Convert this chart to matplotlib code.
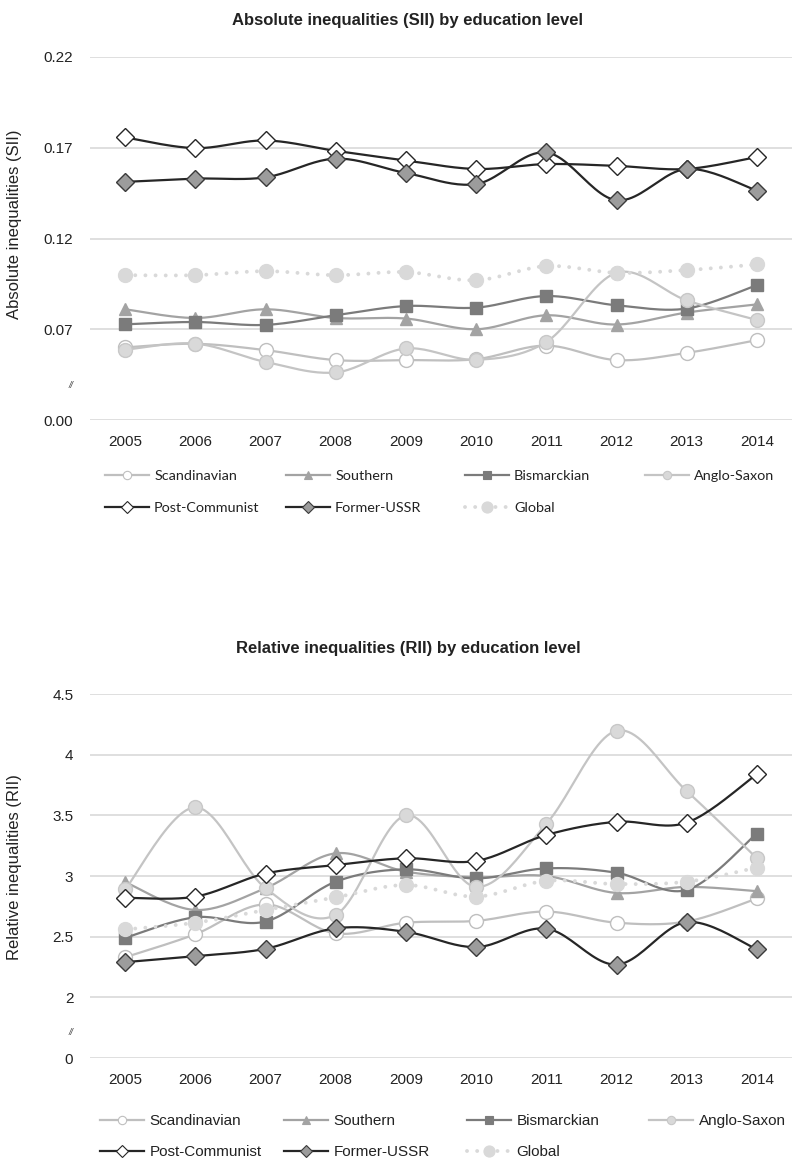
import numpy as np
import matplotlib
matplotlib.use("Agg")
import matplotlib.pyplot as plt
from matplotlib.lines import Line2D
import matplotlib.transforms as mtransforms

# ---------------- data ----------------
years = ["2005", "2006", "2007", "2008", "2009", "2010", "2011", "2012", "2013", "2014"]
series_names = ["Scandinavian", "Southern", "Bismarckian", "Anglo-Saxon",
                "Post-Communist", "Former-USSR", "Global"]

scandinavian_sii = [0.060, 0.062, 0.0585, 0.053, 0.053, 0.0535, 0.061, 0.053, 0.057, 0.064]
southern_sii = [0.081, 0.0762, 0.081, 0.0762, 0.0759, 0.070, 0.0777, 0.0726, 0.0792, 0.0837]
bismarckian_sii = [0.0727, 0.074, 0.0724, 0.0777, 0.0828, 0.0819, 0.0883, 0.0832, 0.0814, 0.0943]
anglo_sii = [0.0587, 0.0621, 0.052, 0.0462, 0.0594, 0.0532, 0.063, 0.1011, 0.0859, 0.0751]
postcom_sii = [0.1757, 0.1698, 0.174, 0.1683, 0.163, 0.1583, 0.161, 0.160, 0.1583, 0.1649]
fussr_sii = [0.1512, 0.153, 0.1537, 0.164, 0.1561, 0.150, 0.1674, 0.1411, 0.1583, 0.1464]
global_sii = [0.0998, 0.0998, 0.102, 0.0998, 0.1015, 0.097, 0.1048, 0.1011, 0.1026, 0.1057]

scandinavian_rii = [2.33, 2.52, 2.766, 2.527, 2.615, 2.63, 2.707, 2.615, 2.625, 2.815]
southern_rii = [2.95, 2.72, 2.90, 3.187, 3.036, 2.99, 3.0, 2.86, 2.91, 2.875]
bismarckian_rii = [2.49, 2.66, 2.625, 2.953, 3.055, 2.98, 3.063, 3.027, 2.885, 3.35]
anglo_rii = [2.89, 3.566, 2.90, 2.68, 3.50, 2.91, 3.43, 4.197, 3.70, 3.146]
postcom_rii = [2.82, 2.83, 3.02, 3.09, 3.146, 3.124, 3.338, 3.447, 3.44, 3.84]
fussr_rii = [2.29, 2.34, 2.40, 2.569, 2.54, 2.414, 2.566, 2.27, 2.62, 2.395]
global_rii = [2.56, 2.615, 2.72, 2.824, 2.926, 2.83, 2.96, 2.934, 2.953, 3.07]

sii_ticks = [0.02, 0.07, 0.12, 0.17, 0.22]
sii_ticklabels = ["0.00", "0.07", "0.12", "0.17", "0.22"]
rii_ticks = [1.5, 2, 2.5, 3, 3.5, 4, 4.5]
rii_ticklabels = ["0", "2", "2.5", "3", "3.5", "4", "4.5"]

# ---------------- styles ----------------
styles = {
    "Scandinavian": dict(color="#bfbfbf", marker="o", mfc="white", mec="#bfbfbf", ms=10, lw=1.6, ls="-"),
    "Southern": dict(color="#a3a3a3", marker="^", mfc="#a3a3a3", mec="#a3a3a3", ms=9, lw=1.6, ls="-"),
    "Bismarckian": dict(color="#7b7b7b", marker="s", mfc="#7b7b7b", mec="#7b7b7b", ms=9, lw=1.6, ls="-"),
    "Anglo-Saxon": dict(color="#c4c4c4", marker="o", mfc="#d9d9d9", mec="#c8c8c8", ms=10, lw=1.6, ls="-"),
    "Post-Communist": dict(color="#262626", marker="D", mfc="white", mec="#262626", ms=9, lw=1.6, ls="-"),
    "Former-USSR": dict(color="#262626", marker="D", mfc="#9c9c9c", mec="#3a3a3a", ms=9, lw=1.6, ls="-"),
    "Global": dict(color="#d9d9d9", marker="o", mfc="#d9d9d9", mec="#d9d9d9", ms=10, lw=2.8, ls=(0, (0.01, 2.6))),
}

TICK_FONT = "Liberation Sans"


def smooth(xv, yv, n=24):
    pts = np.column_stack([np.asarray(xv, float), np.asarray(yv, float)])
    P = np.vstack([pts[0], pts, pts[-1]])
    out = []
    for i in range(len(pts) - 1):
        p0, p1, p2, p3 = P[i], P[i + 1], P[i + 2], P[i + 3]
        c1 = p1 + (p2 - p0) / 6.0
        c2 = p2 - (p3 - p1) / 6.0
        t = np.linspace(0, 1, n)[:, None]
        seg = (1 - t) ** 3 * p1 + 3 * (1 - t) ** 2 * t * c1 + 3 * (1 - t) * t ** 2 * c2 + t ** 3 * p2
        out.append(seg if i == 0 else seg[1:])
    return np.vstack(out)


def draw_panel(ax, data, ticks, ticklabels, ylabel, break_y):
    x = np.arange(len(years))
    z = 3
    for name, vals in zip(series_names, data):
        st = styles[name]
        curve = smooth(x, vals)
        ax.plot(curve[:, 0], curve[:, 1], color=st["color"], lw=st["lw"], ls=st["ls"],
                dash_capstyle="round", solid_capstyle="round", zorder=z)
        ax.plot(x, vals, ls="none", marker=st["marker"], ms=st["ms"], mfc=st["mfc"],
                mec=st["mec"], mew=1.0, zorder=z + 0.5)
        z += 1
    ax.set_xlim(-0.5, len(years) - 0.5)
    ax.set_ylim(ticks[0], ticks[-1])
    ax.set_xticks(x)
    ax.set_xticklabels(years, fontsize=11, family=TICK_FONT, color="#222222")
    ax.set_yticks(ticks)
    ax.set_yticklabels(ticklabels, fontsize=11, family=TICK_FONT, color="#222222")
    ax.tick_params(axis="both", length=0)
    ax.tick_params(axis="x", pad=11)
    ax.tick_params(axis="y", pad=12)
    for s in ax.spines.values():
        s.set_visible(False)
    ax.yaxis.grid(True, color="#d9d9d9", lw=1.2)
    ax.set_axisbelow(True)
    ax.set_ylabel(ylabel, fontsize=12, family=TICK_FONT, color="#222222")
    trans = mtransforms.blended_transform_factory(ax.transAxes, ax.transData)
    ax.text(-0.027, break_y, "//", transform=trans, fontsize=6.5, style="italic",
            color="#444444", ha="center", va="center", family=TICK_FONT)


fig = plt.figure(figsize=(8, 11.64), dpi=100)
W, H = 800.0, 1164.0

ax1 = fig.add_axes([90 / W, 1 - 420 / H, 702 / W, 363 / H])
ax2 = fig.add_axes([90 / W, 1 - 1058 / H, 702 / W, 364 / H])

draw_panel(ax1, [scandinavian_sii, southern_sii, bismarckian_sii, anglo_sii,
                 postcom_sii, fussr_sii, global_sii],
           sii_ticks, sii_ticklabels, "Absolute inequalities (SII)", 0.0392)
draw_panel(ax2, [scandinavian_rii, southern_rii, bismarckian_rii, anglo_rii,
                 postcom_rii, fussr_rii, global_rii],
           rii_ticks, rii_ticklabels, "Relative inequalities (RII)", 1.707)

ax1.yaxis.set_label_coords(-0.097, 0.54)
ax2.yaxis.set_label_coords(-0.097, 0.525)

fig.text(408 / W, 1 - 20 / H, "Absolute inequalities (SII) by education level",
         ha="center", va="center", fontsize=12, fontweight="bold", family=TICK_FONT, color="#222222")
fig.text(408 / W, 1 - 648 / H, "Relative inequalities (RII) by education level",
         ha="center", va="center", fontsize=12, fontweight="bold", family=TICK_FONT, color="#222222")


def legend_handle(name):
    st = styles[name]
    ms = 6 if name != "Global" else 8
    return Line2D([], [], color=st["color"], lw=st["lw"], ls=st["ls"], marker=st["marker"],
                  ms=ms, mfc=st["mfc"], mec=st["mec"], mew=0.8,
                  dash_capstyle="round")


def place_legends(xs, rows, font, fsize, hl):
    positions = [(xs[0], rows[0]), (xs[1], rows[0]), (xs[2], rows[0]), (xs[3], rows[0]),
                 (xs[0], rows[1]), (xs[1], rows[1]), (xs[2], rows[1])]
    for name, (px, py) in zip(series_names, positions):
        fig.legend(handles=[legend_handle(name)], labels=[name], loc="center left",
                   bbox_to_anchor=(px / W, 1 - py / H), frameon=False, borderpad=0,
                   borderaxespad=0, handlelength=hl, handletextpad=0.35, numpoints=1,
                   prop=dict(family=font, size=fsize), labelcolor="#222222")


place_legends([105, 286, 465, 645], [476, 508], "Lato", 10.4, 3.05)
place_legends([100, 284, 467, 649], [1121, 1152], TICK_FONT, 11, 2.9)

fig.savefig("out.png", dpi=100)
